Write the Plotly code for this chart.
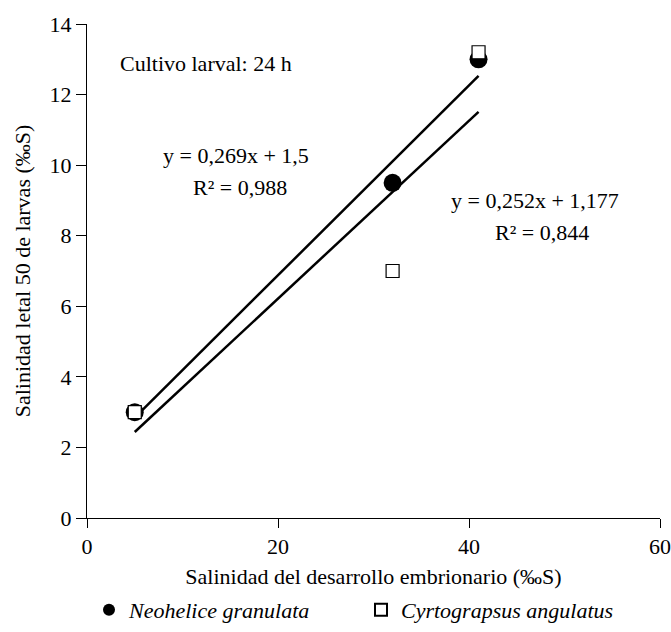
import plotly.graph_objects as go

x_vals = [5, 32, 41]
neohelice = [3, 9.5, 13]
cyrtograpsus = [3, 7, 13.2]
fit_x = [5, 41]
neo_slope, neo_int = 0.269, 1.5
cyr_slope, cyr_int = 0.252, 1.177

FONT = "Liberation Serif, Times New Roman, serif"
FS = 22

fig = go.Figure()
fig.add_trace(go.Scatter(x=fit_x, y=[neo_slope * v + neo_int for v in fit_x], mode="lines",
                         line=dict(color="black", width=2.5), showlegend=False, hoverinfo="skip"))
fig.add_trace(go.Scatter(x=fit_x, y=[cyr_slope * v + cyr_int for v in fit_x], mode="lines",
                         line=dict(color="black", width=2.5), showlegend=False, hoverinfo="skip"))
fig.add_trace(go.Scatter(x=x_vals, y=neohelice, mode="markers", name="<i>Neohelice granulata</i>",
                         marker=dict(symbol="circle", size=18, color="black")))
fig.add_trace(go.Scatter(x=x_vals, y=cyrtograpsus, mode="markers", name="<i>Cyrtograpsus angulatus</i>",
                         marker=dict(symbol="square", size=13, color="white", line=dict(color="black", width=1.2))))

def note(x, y, text, anchor="center"):
    fig.add_annotation(x=x, y=y, xref="x", yref="y", text=text, showarrow=False,
                       xanchor=anchor, yanchor="middle", font=dict(size=FS, family=FONT, color="black"))

note(3.25, 12.87, "Cultivo larval: 24 h", "left")
note(15.6, 10.27, "y = 0,269x + 1,5")
note(16.0, 9.36, "R² = 0,988")
note(46.9, 9.0, "y = 0,252x + 1,177")
note(47.6, 8.09, "R² = 0,844")

fig.update_layout(
    width=671, height=632,
    margin=dict(l=87, r=11, t=24, b=114),
    plot_bgcolor="white", paper_bgcolor="white",
    font=dict(family=FONT, size=FS, color="black"),
    xaxis=dict(range=[0, 60], tickvals=[0, 20, 40, 60], showline=True, linecolor="black", linewidth=1,
               ticks="outside", ticklen=9, tickcolor="black", showgrid=False, zeroline=False, automargin=False,
               title=dict(text="Salinidad del desarrollo embrionario (‰S)", font=dict(size=FS), standoff=15)),
    yaxis=dict(range=[0, 14], tickvals=[0, 2, 4, 6, 8, 10, 12, 14], showline=True, linecolor="black", linewidth=1,
               ticks="outside", ticklen=10, tickcolor="black", showgrid=False, zeroline=False, automargin=False,
               title=dict(text="Salinidad letal 50 de larvas (‰S)", font=dict(size=FS), standoff=12)),
    legend=dict(orientation="h", xref="container", yref="container", x=89 / 671, xanchor="left",
                y=22 / 632, yanchor="middle", font=dict(size=FS, family=FONT), itemsizing="constant",
                entrywidth=227, tracegroupgap=0),
)

fig.write_html("out.html")
